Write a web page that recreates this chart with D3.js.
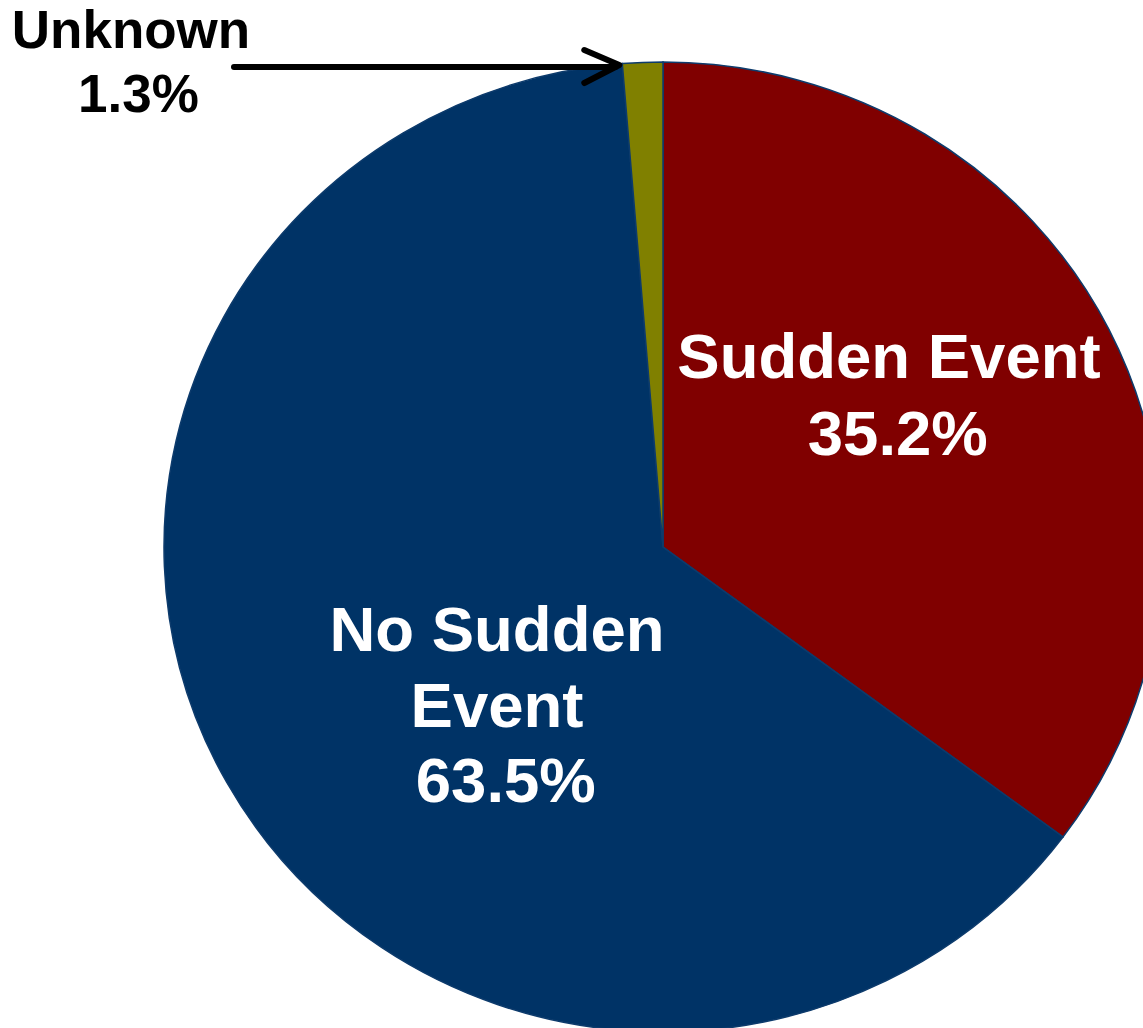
<!DOCTYPE html>
<html lang="en">
<head>
    <meta charset="UTF-8">
    <title>Sudden Event Pie</title>
    <script src="https://d3js.org/d3.v7.min.js"></script>
    <style>
        body { margin: 0; background: #fff; }
        .label {
            font-family: "Liberation Sans", Arial, sans-serif;
            font-weight: bold;
            white-space: pre;
        }
    </style>
</head>
<body>
    <svg id="chart"></svg>

    <script>
        // data
        const categories = ["Sudden Event", "No Sudden Event", "Unknown"];
        const values = [35.2, 63.5, 1.3];
        const colors = ["#800000", "#003366", "#808000"];
        const labelLines = [["Sudden Event", " 35.2%"], ["No Sudden", "Event", " 63.5%"], ["Unknown", " 1.3%"]];

        const width = 1143;
        const height = 1028;
        const cx = 663, cy = 547;
        const rx = 499, ry = 485;

        const svg = d3.select("#chart")
            .attr("width", width)
            .attr("height", height);

        const data = categories.map((c, i) => ({ name: c, value: values[i], color: colors[i], lines: labelLines[i] }));

        const pie = d3.pie()
            .sort(null)
            .value(d => d.value);

        const arc = d3.arc()
            .innerRadius(0)
            .outerRadius(rx);

        // the original pie is slightly squashed vertically
        const g = svg.append("g")
            .attr("transform", "translate(" + cx + "," + cy + ") scale(1," + (ry / rx) + ")");

        g.selectAll("path")
            .data(pie(data))
            .enter().append("path")
            .attr("d", arc)
            .attr("fill", d => d.data.color)
            .attr("stroke", "#0d3b6c")
            .attr("stroke-width", 1.5)
            .attr("vector-effect", "non-scaling-stroke");

        // label placement (block centre x, first baseline, line step, font size, colour)
        const labelPos = [
            { x: 889, y: 378, step: 77, size: 63.5, fill: "#fff" },
            { x: 497, y: 651, step: 75.5, size: 63.5, fill: "#fff" },
            { x: 131, y: 48, step: 64, size: 53, fill: "#000" }
        ];

        data.forEach((d, i) => {
            const p = labelPos[i];
            const t = svg.append("text")
                .attr("class", "label")
                .attr("text-anchor", "middle")
                .attr("font-size", p.size + "px")
                .attr("fill", p.fill);
            d.lines.forEach((line, j) => {
                t.append("tspan")
                    .attr("x", p.x)
                    .attr("y", p.y + j * p.step)
                    .text(line);
            });
        });

        // arrow pointing at the left edge of the small slice
        const unknownArc = pie(data)[2];
        const tipX = cx + rx * Math.sin(unknownArc.startAngle) - 3;
        const tipY = 65;

        const arrow = svg.append("g")
            .attr("stroke", "#000")
            .attr("stroke-width", 6)
            .attr("stroke-linecap", "round")
            .attr("fill", "none");

        arrow.append("line")
            .attr("x1", 234)
            .attr("y1", tipY + 2)
            .attr("x2", tipX - 4)
            .attr("y2", tipY + 2);

        arrow.append("path")
            .attr("stroke-linejoin", "round")
            .attr("d", "M" + (tipX - 35) + "," + (tipY - 15) + " L" + tipX + "," + tipY + " L" + (tipX - 35) + "," + (tipY + 18));
    </script>
</body>
</html>
